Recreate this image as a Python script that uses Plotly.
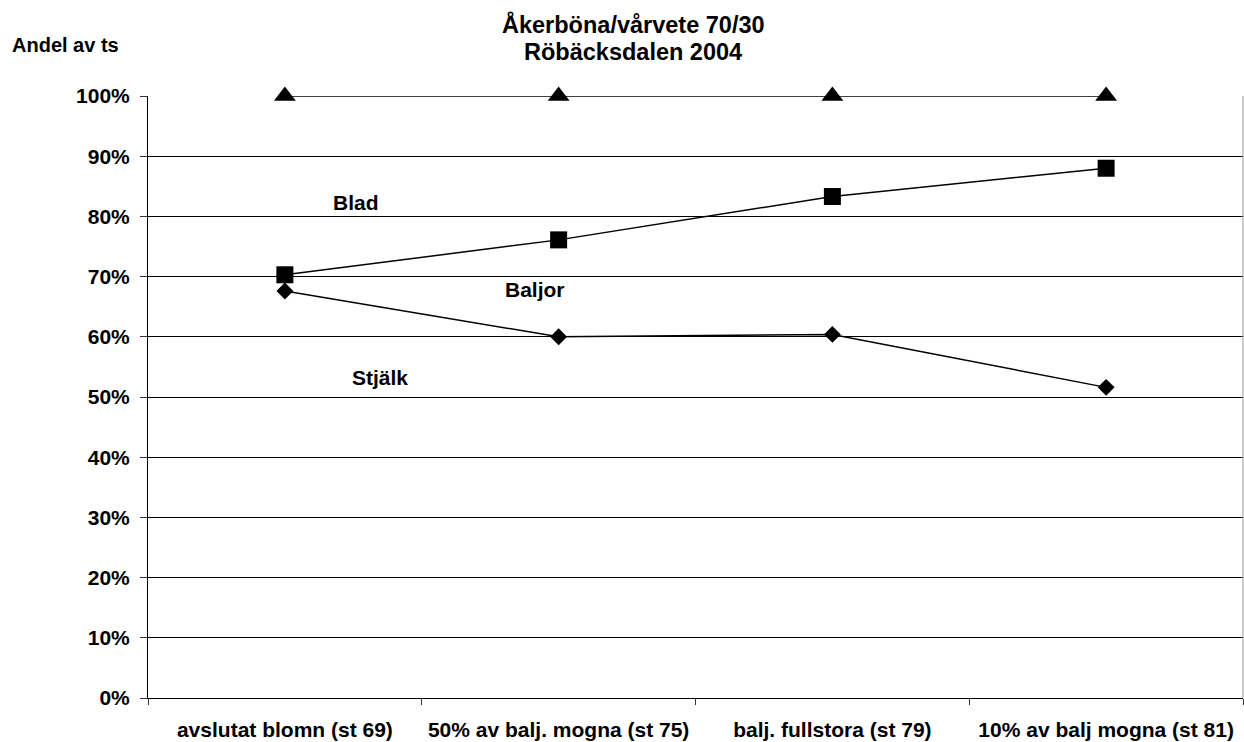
import plotly.graph_objects as go

categories = ["avslutat blomn (st 69)", "50% av balj. mogna (st 75)",
              "balj. fullstora (st 79)", "10% av balj mogna (st 81)"]
stjalk = [0.676, 0.600, 0.604, 0.516]
stjalk_baljor = [0.703, 0.761, 0.833, 0.880]
total = [1.0, 1.0, 1.0, 1.0]

title_lines = ["Åkerböna/vårvete 70/30", "Röbäcksdalen 2004"]

FONT = "Liberation Sans, Arial, sans-serif"

fig = go.Figure()
fig.add_trace(go.Scatter(x=categories, y=stjalk, mode="lines+markers", cliponaxis=False,
                         line=dict(color="black", width=1.5),
                         marker=dict(symbol="diamond", size=13, color="black")))
fig.add_trace(go.Scatter(x=categories, y=stjalk_baljor, mode="lines+markers", cliponaxis=False,
                         line=dict(color="black", width=1.5),
                         marker=dict(symbol="square", size=17, color="black")))
fig.add_trace(go.Scatter(x=categories, y=total, mode="lines+markers", cliponaxis=False,
                         line=dict(color="black", width=1.5),
                         marker=dict(symbol="triangle-up", size=19, color="black")))

fig.update_layout(
    width=1244, height=742,
    margin=dict(l=148, r=1, t=96, b=44),
    paper_bgcolor="white", plot_bgcolor="white",
    showlegend=False,
    font=dict(family=FONT, color="black"),
)
fig.update_xaxes(type="category", tickson="boundaries", range=[-0.5, 3.5],
                 showline=True, linecolor="black", linewidth=1,
                 ticks="outside", ticklen=6, tickcolor="#333",
                 showgrid=False, tickfont=dict(size=21, family=FONT),
                 ticklabelstandoff=13,
                 tickprefix="<b>", ticksuffix="</b>")
fig.update_yaxes(range=[0, 1], dtick=0.1, tickformat=".0%",
                 showline=True, linecolor="black", linewidth=1,
                 ticks="outside", ticklen=7, tickcolor="#333",
                 showgrid=True, gridcolor="black", gridwidth=1,
                 zeroline=False, tickfont=dict(size=21, family=FONT),
                 ticklabelstandoff=6,
                 tickprefix="<b>", ticksuffix="</b>")

fig.add_shape(type="line", xref="paper", yref="paper", x0=1, x1=1, y0=0, y1=1,
              line=dict(color="#999", width=1))

# title, two lines
for txt, py in zip(title_lines, [25, 52]):
    fig.add_annotation(text=f"<b>{txt}</b>", xref="paper", yref="paper",
                       x=(633 - 148) / 1095, y=(698 - py) / 602,
                       xanchor="center", yanchor="middle", showarrow=False,
                       font=dict(size=23.5, family=FONT))

fig.add_annotation(text="<b>Andel av ts</b>", xref="paper", yref="paper",
                   x=(10 - 148) / 1095, y=(698 - 45) / 602, xanchor="left", yanchor="middle",
                   showarrow=False, font=dict(size=20, family=FONT))

labels = ["Blad", "Baljor", "Stjälk"]
label_px = [(356, 202), (535, 289), (380, 377)]
for txt, (px, py) in zip(labels, label_px):
    fig.add_annotation(text=f"<b>{txt}</b>", xref="paper", yref="paper",
                       x=(px - 148) / 1095, y=(698 - py) / 602,
                       xanchor="center", yanchor="middle", showarrow=False,
                       font=dict(size=21, family=FONT))

fig.write_html("out.html")
